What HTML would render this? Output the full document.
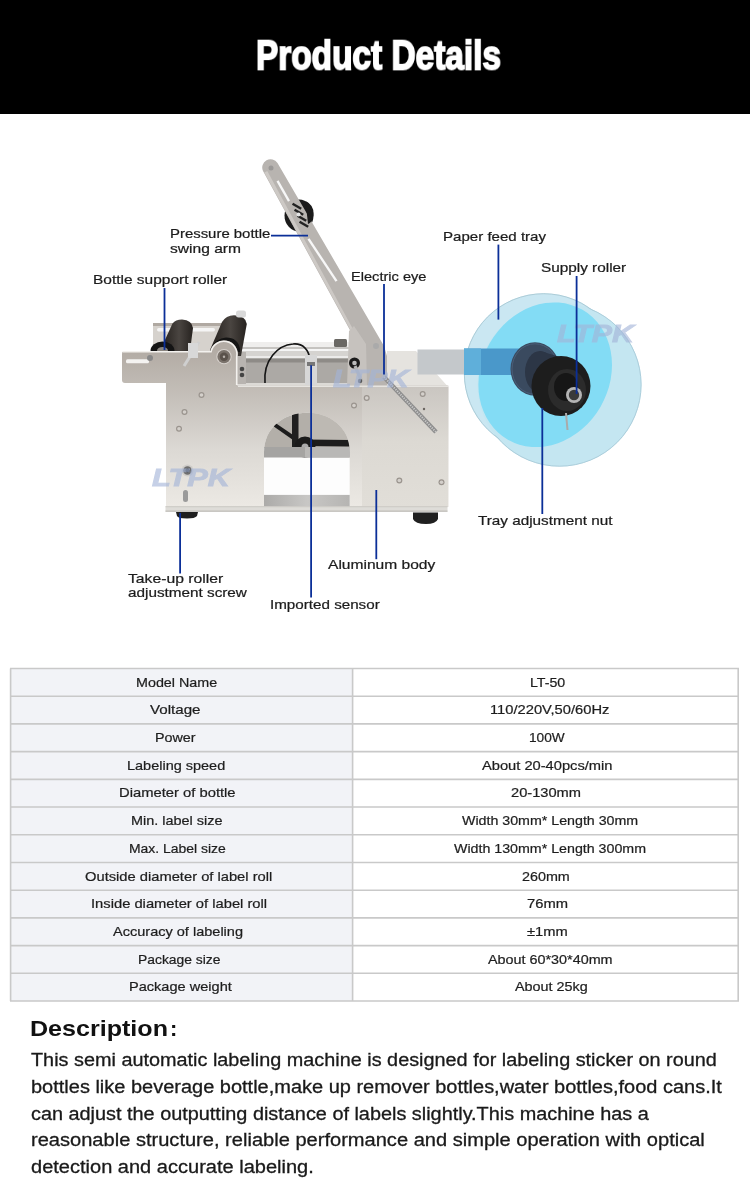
<!DOCTYPE html>
<html><head><meta charset="utf-8"><title>Product Details</title>
<style>
html,body{margin:0;padding:0;background:#fff;}
body{width:750px;height:1199px;position:relative;overflow:hidden;font-family:"Liberation Sans",sans-serif;}
.t{position:absolute;white-space:pre;line-height:1;transform-origin:0 0;will-change:transform;}
.abs{position:absolute;left:0;top:0;}
.hdr{position:absolute;left:0;top:0;width:750px;height:114px;background:#000;}
</style></head><body>
<div class="hdr"></div>
<div class="t" style="left:256.00px;top:34.56px;font-size:44px;font-weight:700;color:#fff;transform:scale(0.7591,0.9300);-webkit-text-stroke:1.9px #fff;">Product Details</div>

<svg class="abs" width="750" height="1199" viewBox="0 0 750 1199">
<defs>
 <linearGradient id="rolg" x1="0" y1="0" x2="1" y2="0">
  <stop offset="0" stop-color="#231f1c"/><stop offset="0.55" stop-color="#4a4541"/><stop offset="1" stop-color="#26221f"/>
 </linearGradient>
 <linearGradient id="plateg" gradientUnits="userSpaceOnUse" x1="0" y1="352" x2="0" y2="507">
  <stop offset="0" stop-color="#b3aca5"/><stop offset="0.31" stop-color="#c6c1bb"/><stop offset="0.63" stop-color="#dcd9d4"/><stop offset="1" stop-color="#ece9e4"/>
 </linearGradient>
 <linearGradient id="boxg" x1="0" y1="0" x2="1" y2="0">
  <stop offset="0" stop-color="#e3e1dd"/><stop offset="1" stop-color="#dedcd8"/>
 </linearGradient>
 <linearGradient id="boxg2" gradientUnits="userSpaceOnUse" x1="0" y1="387" x2="0" y2="507">
  <stop offset="0" stop-color="#cac6c1"/><stop offset="0.45" stop-color="#dcd9d3"/><stop offset="1" stop-color="#e1ded8"/>
 </linearGradient>
 <linearGradient id="barg" x1="0" y1="0" x2="1" y2="0">
  <stop offset="0" stop-color="#a9a8a6"/><stop offset="0.5" stop-color="#c8c7c5"/><stop offset="1" stop-color="#b3b2b0"/>
 </linearGradient>
 <mask id="mA" maskUnits="userSpaceOnUse" x="0" y="0" width="750" height="1199"><rect width="750" height="1199" fill="#fff"/><circle cx="543.7" cy="373.1" r="79" fill="#000"/></mask>
 <mask id="mB" maskUnits="userSpaceOnUse" x="0" y="0" width="750" height="1199"><rect width="750" height="1199" fill="#fff"/><circle cx="559.5" cy="384.6" r="81.2" fill="#000"/></mask>
 <clipPath id="cB"><circle cx="559.5" cy="384.6" r="82"/></clipPath>
 <clipPath id="cArch"><path d="M264,507 L264,452 C264,427 285,412.7 306.8,412.7 C328.6,412.7 349.7,427 349.7,452 L349.7,507 Z"/></clipPath>
</defs>

<!-- arm roller (behind arm) -->
<ellipse cx="299" cy="215.5" rx="14.5" ry="16" fill="#1b1b1b"/>

<!-- back plate behind rollers -->
<path d="M153,352 L153,326 Q153,323 156,323 L236,323 L236,352 Z" fill="#d6d2cd"/>
<rect x="153" y="323" width="83" height="3" fill="#b0a9a2"/>
<rect x="157" y="328" width="58" height="3.5" rx="1.7" fill="#f5f5f5"/>

<!-- mechanism zone -->
<rect x="238" y="342" width="112" height="44" fill="#aca9a5"/>
<rect x="238" y="342" width="112" height="5" fill="#efeeed"/>
<rect x="238" y="347" width="112" height="2" fill="#c5c3c0"/>
<rect x="238" y="349" width="112" height="2" fill="#f5f5f5"/>
<rect x="238" y="351" width="112" height="5" fill="#d5d3d0"/>
<rect x="238" y="356" width="112" height="2.5" fill="#ecebea"/>
<rect x="238" y="358.5" width="112" height="4" fill="#8e8b87"/>
<rect x="238" y="383" width="112" height="3" fill="#dcdad6"/>
<rect x="237" y="352" width="9" height="32" fill="#b8b4b0"/>
<circle cx="242" cy="369" r="2.3" fill="#444"/>
<circle cx="242" cy="375" r="2.3" fill="#444"/>
<rect x="334" y="339" width="13" height="8" rx="1.5" fill="#6a6864"/>
<path d="M265,383 C263,360 278,345 293,344 C303,343 309,350 310,360" stroke="#151515" stroke-width="1.6" fill="none"/>
<rect x="305" y="355" width="12" height="30" fill="#d7d7d7"/>
<rect x="307" y="362" width="8" height="4" fill="#777"/>

<!-- rollers -->
<path d="M164,342 L172.5,323.5 Q175.5,319.5 182,319.5 Q192,320 193,328 L190,351 L162,351 Z" fill="url(#rolg)"/>
<path d="M150.5,351 A12,9.5 0 0 1 174.5,351 Z" fill="#141414"/>
<ellipse cx="162.5" cy="350.5" rx="5.5" ry="3.5" fill="#8a8580"/>
<path d="M210.4,349 L222,322 Q226,315.4 234,315.2 Q246,315.6 246.8,324 L241,356 L210.4,356 Z" fill="url(#rolg)"/>
<path d="M211,349 Q216,338 226,337.5 Q238,337.5 240,349 L240,352 L211,352 Z" fill="#141414"/>
<rect x="236" y="310.5" width="10" height="7" rx="2.5" fill="#d9d9d9"/>
<!-- arm -->
<path d="M263,171 L351,332 L349,386 L387,386 L387,356 L384,346 L277.5,163 A8.3,8.3 0 0 0 263,171 Z" fill="#b8b4b0"/>
<path d="M264.3,172.5 L351.5,332 L354.5,332 L267.3,171 Z" fill="#cdc9c5"/>
<path d="M276.5,181.5 L278.5,180.3 L290,200.5 L288,201.7 Z" fill="#f7f7f7"/>
<path d="M307.5,239.5 L309.5,238.3 L337.5,280.5 L335.5,281.7 Z" fill="#f7f7f7"/>
<circle cx="271" cy="168" r="2.5" fill="#9a9896"/>
<!-- arm roller visible right of the arm -->
<path d="M305.5,201 Q314,205 313.5,214 Q313,222 308,224 Z" fill="#1b1b1b"/>
<g fill="#222"><rect x="292" y="205" width="10" height="2.5" transform="rotate(30 297 206)"/><rect x="294" y="211" width="10" height="2.5" transform="rotate(30 299 212)"/><rect x="297" y="217" width="10" height="2.5" transform="rotate(30 302 218)"/><rect x="299" y="223" width="10" height="2.5" transform="rotate(30 304 224)"/></g>
<circle cx="298.5" cy="214.5" r="2" fill="#e5e5e5"/>
<!-- bracket -->
<path d="M349,331 L354,326 L366,344 L367,386 L347,386 Z" fill="#c6c2be"/>
<circle cx="376" cy="346" r="3" fill="#aaa"/>
<circle cx="354.5" cy="363" r="5.5" fill="#1a1a1a"/>
<circle cx="354.5" cy="363" r="2.3" fill="#bbb"/>
<path d="M355,366 L362,382" stroke="#b5b5b5" stroke-width="3.2"/>
<circle cx="360" cy="381" r="2.2" fill="#555"/>

<!-- box top face -->
<path d="M387,351 L416,351 L448.3,387 L387,387 Z" fill="#e5e3df"/>
<!-- paper strip -->
<rect x="417.5" y="349.5" width="112" height="25" fill="#c4c8cb"/>

<!-- front plate -->
<path d="M125,351 L211,351 A13.5,13.5 0 0 1 237.5,357 L237.5,385.5 L448.3,385.5 L448.3,507 L166,507 L166,383 L125,383 Q122,383 122,380 L122,354 Q122,351 125,351 Z" fill="url(#plateg)"/>
<path d="M123,351.8 L211,351.8 A12.8,12.8 0 0 1 236.7,357 L236.7,385" fill="none" stroke="#f3f1ee" stroke-width="1.6"/>
<rect x="238" y="385.5" width="210" height="1.5" fill="#e6e4e0"/>
<rect x="362" y="387" width="86.3" height="120" fill="url(#boxg2)"/>
<!-- slot in ear -->
<rect x="126" y="359.3" width="23" height="4" rx="1.5" fill="#f4f3f1"/>
<!-- bump hub -->
<circle cx="224" cy="356.7" r="7.6" fill="#d6d1cc"/>
<circle cx="224" cy="356.7" r="6.6" fill="#7a726b"/>
<circle cx="224" cy="356.7" r="4.2" fill="#5a524b"/>
<circle cx="224" cy="356.7" r="1.2" fill="#b8b2ac"/>
<!-- ear fittings -->
<path d="M184,366 L199,342" stroke="#cfcfcf" stroke-width="3"/>
<rect x="188" y="343" width="10" height="15" fill="#d8d8d8"/>
<circle cx="150" cy="358" r="3" fill="#888"/>
<!-- screws on plate -->
<circle cx="201.5" cy="395" r="3" fill="#9a948e"/><circle cx="201.5" cy="395" r="1.8" fill="#d4d0cb"/>
<circle cx="184.5" cy="412" r="3" fill="#9a948e"/><circle cx="184.5" cy="412" r="1.8" fill="#d4d0cb"/>
<circle cx="179" cy="428.7" r="3" fill="#9a948e"/><circle cx="179" cy="428.7" r="1.8" fill="#d4d0cb"/>
<circle cx="366.7" cy="398" r="3" fill="#9a948e"/><circle cx="366.7" cy="398" r="1.8" fill="#d4d0cb"/>
<circle cx="354" cy="405.5" r="3" fill="#9a948e"/><circle cx="354" cy="405.5" r="1.8" fill="#d4d0cb"/>
<circle cx="422.7" cy="394" r="3" fill="#9a948e"/><circle cx="422.7" cy="394" r="1.8" fill="#d4d0cb"/>
<circle cx="399.3" cy="480.5" r="3" fill="#9a948e"/><circle cx="399.3" cy="480.5" r="1.8" fill="#d4d0cb"/>
<circle cx="441.5" cy="482.3" r="3" fill="#9a948e"/><circle cx="441.5" cy="482.3" r="1.8" fill="#d4d0cb"/>
<circle cx="424" cy="409" r="1.2" fill="#6a6560"/>
<circle cx="187.5" cy="470.5" r="6" fill="#cfcdc9"/>
<circle cx="187.5" cy="470.5" r="4.3" fill="#6f6f6f"/>
<circle cx="187.5" cy="470.5" r="2" fill="#333"/>
<rect x="183" y="490" width="5" height="12" rx="2.5" fill="#9a9a9a"/>
<!-- spring -->
<path d="M384,377 L436,432" stroke="#8e8e8e" stroke-width="4.5"/>
<path d="M384,377 L436,432" stroke="#c9c9c9" stroke-width="2" stroke-dasharray="1.2 1.2"/>

<!-- arch opening -->
<g clip-path="url(#cArch)">
 <rect x="260" y="410" width="95" height="100" fill="#fdfdfd"/>
 <rect x="260" y="410" width="95" height="38" fill="#b3afa9"/>
 <rect x="310" y="410" width="45" height="30" fill="#bdb9b3"/>
 <path d="M271,424.5 L274,422 L296,437 L293,440 Z" fill="#1c1c1c"/>
 <path d="M305,439.5 L352,440 L352,446.5 L305,446 Z" fill="#1c1c1c"/>
 <rect x="292" y="410" width="6.5" height="38" fill="#1f1f1f"/>
 <circle cx="305" cy="447" r="10.5" fill="#1a1a1a"/>
 <circle cx="305" cy="447" r="3.5" fill="#aaa"/>
 <rect x="260" y="447" width="95" height="10.5" fill="#a5a4a2"/>
 <rect x="305" y="447" width="50" height="10.5" fill="#b9b8b6"/>
 <rect x="260" y="494.9" width="95" height="12" fill="url(#barg)"/>
</g>

<!-- base strip -->
<rect x="165.5" y="506.3" width="282" height="5.4" fill="#dedcd8"/>
<rect x="165.5" y="506.3" width="282" height="0.9" fill="#c9c6c2"/>
<rect x="165.5" y="510.6" width="282" height="1.1" fill="#bcb9b5"/>
<!-- feet -->
<path d="M176,512 L198,512 L197,516 Q195,518.5 187,518.5 Q178,518.5 177,516 Z" fill="#1e1e1e"/>
<path d="M413,512.5 L438,512.5 L438,519 Q436,524 426,524 Q415,524 413,519 Z" fill="#202020"/>

<!-- discs -->
<circle cx="543.7" cy="373.1" r="79.8" fill="#cae7f2"/>
<circle cx="559.5" cy="384.6" r="82" fill="#c4e6f1"/>
<circle cx="543.7" cy="373.1" r="79.4" fill="none" stroke="#a8c8d4" stroke-width="0.9" mask="url(#mB)"/>
<circle cx="559.5" cy="384.6" r="81.6" fill="none" stroke="#a9cbd8" stroke-width="0.9" mask="url(#mA)"/>
<ellipse cx="545.2" cy="374.8" rx="74.9" ry="63.9" transform="rotate(-60.1 545.2 374.8)" fill="#83dcf5"/>
<!-- strip over disc -->
<rect x="464" y="348.5" width="66" height="26.5" fill="#4a98ca"/>
<rect x="464" y="348.5" width="17" height="26.5" fill="#5fafda"/>
<!-- spindle -->
<ellipse cx="535" cy="369" rx="24.5" ry="26.7" fill="#3a4a5f"/>
<ellipse cx="535" cy="369" rx="23" ry="25.2" fill="none" stroke="#4a5e78" stroke-width="1"/>
<ellipse cx="540" cy="372" rx="15" ry="21" fill="#2c3646"/>
<path d="M540,351 L560,357 L560,414 L540,393 Z" fill="#2c3646"/>
<ellipse cx="561" cy="386" rx="29.5" ry="30" fill="#1d1d1d"/>
<ellipse cx="567" cy="390" rx="19" ry="21" fill="#2b2b2b"/>
<ellipse cx="566" cy="387" rx="12" ry="14" fill="#161616"/>
<circle cx="574" cy="395" r="8" fill="#b5b5b5"/>
<circle cx="574" cy="395" r="5.2" fill="#3a3a3a"/>
<line x1="566" y1="413" x2="567.5" y2="430" stroke="#aaaaaa" stroke-width="2"/>

<!-- watermarks -->
<g font-family="Liberation Sans" font-weight="700" font-style="italic" fill="#a3b4d8" stroke="#a3b4d8" stroke-width="0.9" opacity="0.62">
<text x="152" y="485.7" font-size="23" textLength="78" lengthAdjust="spacingAndGlyphs">LTPK</text>
<text x="333" y="387" font-size="23" textLength="76" lengthAdjust="spacingAndGlyphs">LTPK</text>
<text x="557" y="342" font-size="23" textLength="77" lengthAdjust="spacingAndGlyphs">LTPK</text>
</g>

<!-- leader lines -->
<g stroke="#0b2f98" stroke-width="1.8">
<line x1="271" y1="235.6" x2="308" y2="235.6"/>
<line x1="164.5" y1="288" x2="164.5" y2="350"/>
<line x1="384" y1="284" x2="384" y2="374.5"/>
<line x1="498.4" y1="244.6" x2="498.4" y2="319.6"/>
<line x1="576.6" y1="276" x2="576.6" y2="394"/>
<line x1="542.3" y1="408" x2="542.3" y2="514"/>
<line x1="376.3" y1="490" x2="376.3" y2="559.2"/>
<line x1="311.1" y1="365.2" x2="311.1" y2="597.6"/>
<line x1="180.1" y1="513" x2="180.1" y2="573.4"/>
</g>
</svg>

<div class="t" style="left:169.70px;top:227.30px;font-size:13px;font-weight:400;color:#1c1c1c;transform:scaleX(1.1471);-webkit-text-stroke:0.22px #1c1c1c;">Pressure bottle</div>
<div class="t" style="left:169.70px;top:241.80px;font-size:13px;font-weight:400;color:#1c1c1c;transform:scaleX(1.1983);-webkit-text-stroke:0.22px #1c1c1c;">swing arm</div>
<div class="t" style="left:93.00px;top:272.60px;font-size:13px;font-weight:400;color:#1c1c1c;transform:scaleX(1.1904);-webkit-text-stroke:0.22px #1c1c1c;">Bottle support roller</div>
<div class="t" style="left:350.70px;top:269.80px;font-size:13px;font-weight:400;color:#1c1c1c;transform:scaleX(1.1235);-webkit-text-stroke:0.22px #1c1c1c;">Electric eye</div>
<div class="t" style="left:443.00px;top:229.70px;font-size:13px;font-weight:400;color:#1c1c1c;transform:scaleX(1.1587);-webkit-text-stroke:0.22px #1c1c1c;">Paper feed tray</div>
<div class="t" style="left:541.00px;top:261.30px;font-size:13px;font-weight:400;color:#1c1c1c;transform:scaleX(1.1790);-webkit-text-stroke:0.22px #1c1c1c;">Supply roller</div>
<div class="t" style="left:478.30px;top:513.50px;font-size:13px;font-weight:400;color:#1c1c1c;transform:scaleX(1.1748);-webkit-text-stroke:0.22px #1c1c1c;">Tray adjustment nut</div>
<div class="t" style="left:327.90px;top:558.10px;font-size:13px;font-weight:400;color:#1c1c1c;transform:scaleX(1.1974);-webkit-text-stroke:0.22px #1c1c1c;">Aluminum body</div>
<div class="t" style="left:128.30px;top:572.00px;font-size:13px;font-weight:400;color:#1c1c1c;transform:scaleX(1.2086);-webkit-text-stroke:0.22px #1c1c1c;">Take-up roller</div>
<div class="t" style="left:128.30px;top:586.40px;font-size:13px;font-weight:400;color:#1c1c1c;transform:scaleX(1.1754);-webkit-text-stroke:0.22px #1c1c1c;">adjustment screw</div>
<div class="t" style="left:269.80px;top:598.10px;font-size:13px;font-weight:400;color:#1c1c1c;transform:scaleX(1.1678);-webkit-text-stroke:0.22px #1c1c1c;">Imported sensor</div>

<svg class="abs" width="750" height="1199" viewBox="0 0 750 1199"><rect x="10.6" y="668.5" width="342" height="332.52" fill="#f2f3f7"/><g stroke="#c9c9c9" stroke-width="1.6"><line x1="10" y1="668.50" x2="739" y2="668.50"/><line x1="10" y1="696.21" x2="739" y2="696.21"/><line x1="10" y1="723.92" x2="739" y2="723.92"/><line x1="10" y1="751.63" x2="739" y2="751.63"/><line x1="10" y1="779.34" x2="739" y2="779.34"/><line x1="10" y1="807.05" x2="739" y2="807.05"/><line x1="10" y1="834.76" x2="739" y2="834.76"/><line x1="10" y1="862.47" x2="739" y2="862.47"/><line x1="10" y1="890.18" x2="739" y2="890.18"/><line x1="10" y1="917.89" x2="739" y2="917.89"/><line x1="10" y1="945.60" x2="739" y2="945.60"/><line x1="10" y1="973.31" x2="739" y2="973.31"/><line x1="10" y1="1001.02" x2="739" y2="1001.02"/><line x1="10.6" y1="668.50" x2="10.6" y2="1001.02"/><line x1="352.6" y1="668.50" x2="352.6" y2="1001.02"/><line x1="738.2" y1="668.50" x2="738.2" y2="1001.02"/></g></svg>

<div class="t" style="left:135.90px;top:675.60px;font-size:13px;font-weight:400;color:#1e1e1e;transform:scaleX(1.1017);-webkit-text-stroke:0.22px #1e1e1e;">Model Name</div>
<div class="t" style="left:530.30px;top:675.60px;font-size:13px;font-weight:400;color:#1e1e1e;transform:scaleX(1.0904);-webkit-text-stroke:0.22px #1e1e1e;">LT-50</div>
<div class="t" style="left:149.50px;top:703.31px;font-size:13px;font-weight:400;color:#1e1e1e;transform:scaleX(1.1643);-webkit-text-stroke:0.22px #1e1e1e;">Voltage</div>
<div class="t" style="left:490.10px;top:703.31px;font-size:13px;font-weight:400;color:#1e1e1e;transform:scaleX(1.1313);-webkit-text-stroke:0.22px #1e1e1e;">110/220V,50/60Hz</div>
<div class="t" style="left:154.90px;top:731.02px;font-size:13px;font-weight:400;color:#1e1e1e;transform:scaleX(1.1015);-webkit-text-stroke:0.22px #1e1e1e;">Power</div>
<div class="t" style="left:528.90px;top:731.02px;font-size:13px;font-weight:400;color:#1e1e1e;transform:scaleX(1.0510);-webkit-text-stroke:0.22px #1e1e1e;">100W</div>
<div class="t" style="left:127.40px;top:758.73px;font-size:13px;font-weight:400;color:#1e1e1e;transform:scaleX(1.1133);-webkit-text-stroke:0.22px #1e1e1e;">Labeling speed</div>
<div class="t" style="left:481.90px;top:758.73px;font-size:13px;font-weight:400;color:#1e1e1e;transform:scaleX(1.1286);-webkit-text-stroke:0.22px #1e1e1e;">About 20-40pcs/min</div>
<div class="t" style="left:119.40px;top:786.44px;font-size:13px;font-weight:400;color:#1e1e1e;transform:scaleX(1.1363);-webkit-text-stroke:0.22px #1e1e1e;">Diameter of bottle</div>
<div class="t" style="left:510.70px;top:786.44px;font-size:13px;font-weight:400;color:#1e1e1e;transform:scaleX(1.1265);-webkit-text-stroke:0.22px #1e1e1e;">20-130mm</div>
<div class="t" style="left:131.40px;top:814.15px;font-size:13px;font-weight:400;color:#1e1e1e;transform:scaleX(1.1108);-webkit-text-stroke:0.22px #1e1e1e;">Min. label size</div>
<div class="t" style="left:462.00px;top:814.15px;font-size:13px;font-weight:400;color:#1e1e1e;transform:scaleX(1.0936);-webkit-text-stroke:0.22px #1e1e1e;">Width 30mm* Length 30mm</div>
<div class="t" style="left:129.30px;top:841.86px;font-size:13px;font-weight:400;color:#1e1e1e;transform:scaleX(1.0716);-webkit-text-stroke:0.22px #1e1e1e;">Max. Label size</div>
<div class="t" style="left:454.10px;top:841.86px;font-size:13px;font-weight:400;color:#1e1e1e;transform:scaleX(1.0934);-webkit-text-stroke:0.22px #1e1e1e;">Width 130mm* Length 300mm</div>
<div class="t" style="left:84.70px;top:869.57px;font-size:13px;font-weight:400;color:#1e1e1e;transform:scaleX(1.1318);-webkit-text-stroke:0.22px #1e1e1e;">Outside diameter of label roll</div>
<div class="t" style="left:521.50px;top:869.57px;font-size:13px;font-weight:400;color:#1e1e1e;transform:scaleX(1.1024);-webkit-text-stroke:0.22px #1e1e1e;">260mm</div>
<div class="t" style="left:90.60px;top:897.28px;font-size:13px;font-weight:400;color:#1e1e1e;transform:scaleX(1.1335);-webkit-text-stroke:0.22px #1e1e1e;">Inside diameter of label roll</div>
<div class="t" style="left:526.50px;top:897.28px;font-size:13px;font-weight:400;color:#1e1e1e;transform:scaleX(1.1349);-webkit-text-stroke:0.22px #1e1e1e;">76mm</div>
<div class="t" style="left:112.70px;top:924.99px;font-size:13px;font-weight:400;color:#1e1e1e;transform:scaleX(1.1174);-webkit-text-stroke:0.22px #1e1e1e;">Accuracy of labeling</div>
<div class="t" style="left:526.80px;top:924.99px;font-size:13px;font-weight:400;color:#1e1e1e;transform:scaleX(1.1296);-webkit-text-stroke:0.22px #1e1e1e;">±1mm</div>
<div class="t" style="left:137.50px;top:952.70px;font-size:13px;font-weight:400;color:#1e1e1e;transform:scaleX(1.0669);-webkit-text-stroke:0.22px #1e1e1e;">Package size</div>
<div class="t" style="left:487.80px;top:952.70px;font-size:13px;font-weight:400;color:#1e1e1e;transform:scaleX(1.1051);-webkit-text-stroke:0.22px #1e1e1e;">About 60*30*40mm</div>
<div class="t" style="left:128.70px;top:980.41px;font-size:13px;font-weight:400;color:#1e1e1e;transform:scaleX(1.1201);-webkit-text-stroke:0.22px #1e1e1e;">Package weight</div>
<div class="t" style="left:514.80px;top:980.41px;font-size:13px;font-weight:400;color:#1e1e1e;transform:scaleX(1.1052);-webkit-text-stroke:0.22px #1e1e1e;">About 25kg</div>

<div class="t" style="left:29.80px;top:1018.48px;font-size:22px;font-weight:700;color:#111;transform:scaleX(1.1402);">Description</div>
<div class="t" style="left:169.60px;top:1018.48px;font-size:22px;font-weight:700;color:#111;transform:scaleX(1.0000);">:</div>

<div class="t" style="left:31.40px;top:1051.46px;font-size:18px;font-weight:400;color:#1a1a1a;transform:scaleX(1.1020);-webkit-text-stroke:0.3px #1a1a1a;">This semi automatic labeling machine is designed for labeling sticker on round</div>
<div class="t" style="left:31.40px;top:1078.06px;font-size:18px;font-weight:400;color:#1a1a1a;transform:scaleX(1.1100);-webkit-text-stroke:0.3px #1a1a1a;">bottles like beverage bottle,make up remover bottles,water bottles,food cans.It</div>
<div class="t" style="left:31.40px;top:1104.76px;font-size:18px;font-weight:400;color:#1a1a1a;transform:scaleX(1.1032);-webkit-text-stroke:0.3px #1a1a1a;">can adjust the outputting distance of labels slightly.This machine has a</div>
<div class="t" style="left:31.40px;top:1131.46px;font-size:18px;font-weight:400;color:#1a1a1a;transform:scaleX(1.1150);-webkit-text-stroke:0.3px #1a1a1a;">reasonable structure, reliable performance and simple operation with optical</div>
<div class="t" style="left:31.40px;top:1157.96px;font-size:18px;font-weight:400;color:#1a1a1a;transform:scaleX(1.1126);-webkit-text-stroke:0.3px #1a1a1a;">detection and accurate labeling.</div>

</body></html>
